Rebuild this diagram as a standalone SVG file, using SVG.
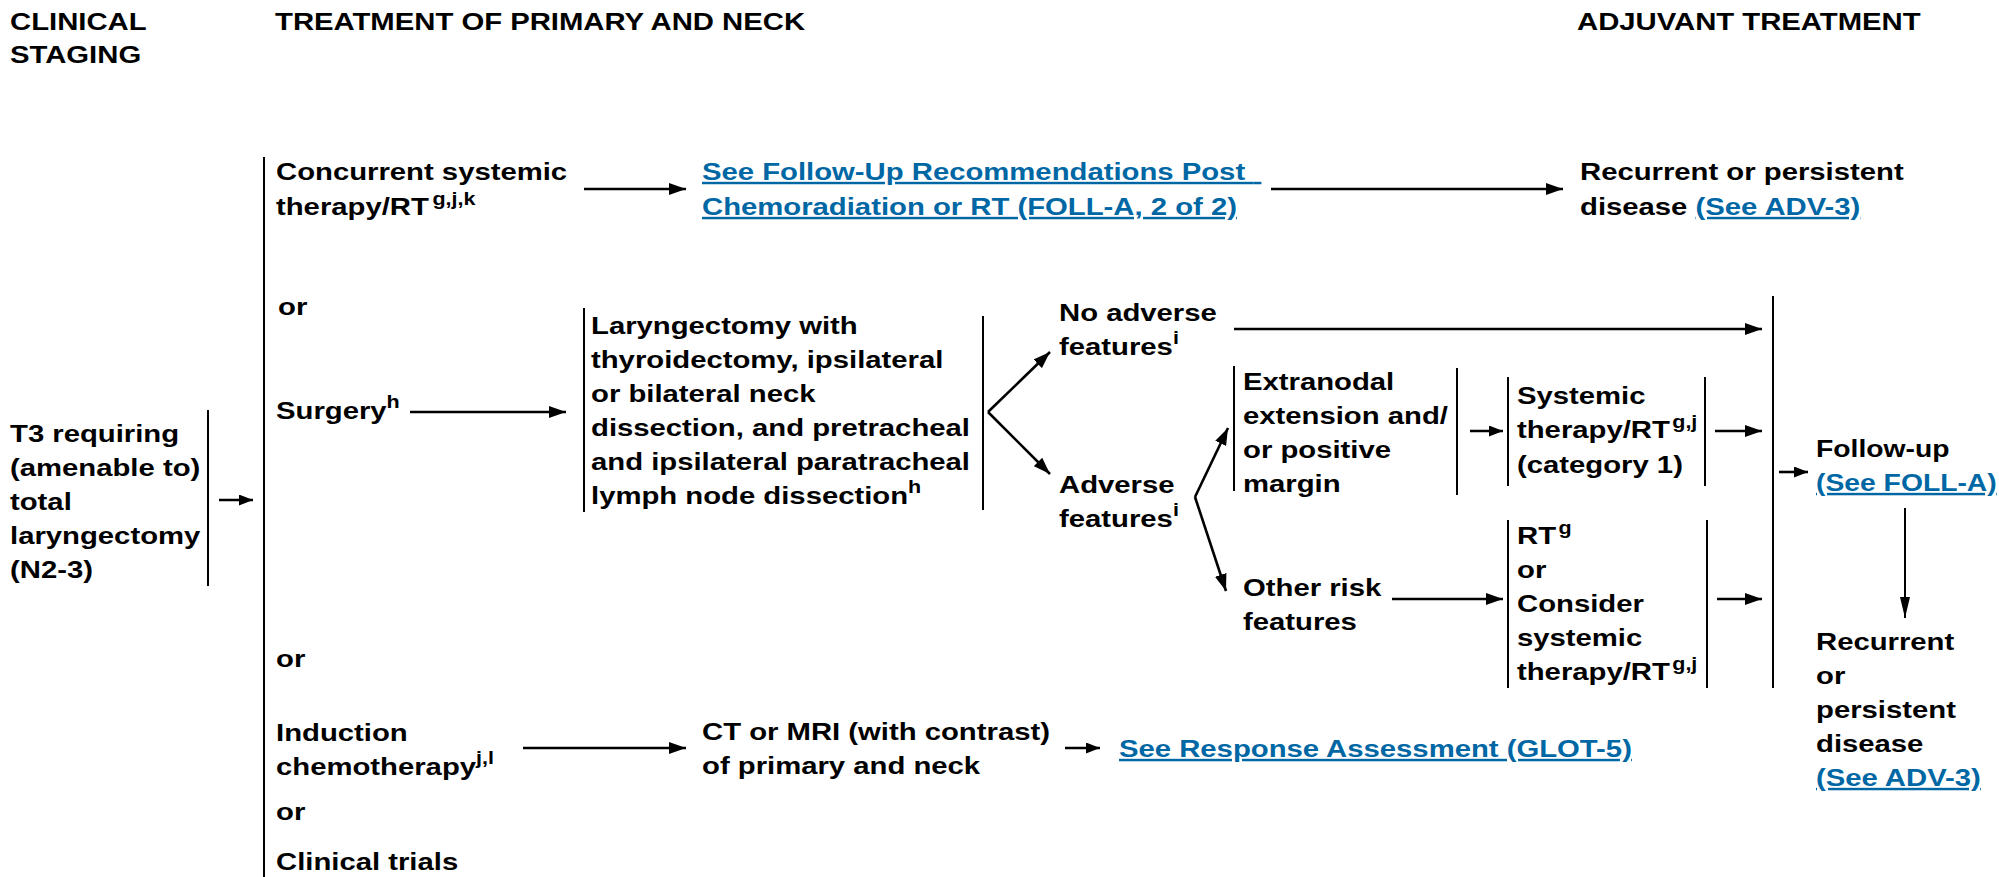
<svg xmlns="http://www.w3.org/2000/svg" width="1999" height="877" viewBox="0 0 1999 877">
  <style>
    text { font-family: "Liberation Sans", Arial, sans-serif; font-weight: bold; font-size: 24.5px; fill: #000; }
    .sup { font-size: 18px; }
    .link { fill: #0067a5; text-decoration: underline; }
    .bar { stroke: #000; stroke-width: 2; fill: none; }
    .arr { stroke: #000; stroke-width: 2.6; fill: none; marker-end: url(#head); }
    .arr-s { stroke: #000; stroke-width: 2.6; fill: none; marker-end: url(#headS); }
    .arr-d { stroke: #000; stroke-width: 2; fill: none; marker-end: url(#headD); }
  </style>
  <defs>
    <marker id="head" markerUnits="userSpaceOnUse" markerWidth="17" markerHeight="12" refX="17" refY="6" orient="auto">
      <path d="M0,0 L17,6 L0,12 z" fill="#000"/>
    </marker>
    <marker id="headS" markerUnits="userSpaceOnUse" markerWidth="14" markerHeight="11" refX="14" refY="5.5" orient="auto">
      <path d="M0,0 L14,5.5 L0,11 z" fill="#000"/>
    </marker>
    <marker id="headD" markerUnits="userSpaceOnUse" markerWidth="21" markerHeight="10" refX="21" refY="5" orient="auto">
      <path d="M0,0 L21,5 L0,10 z" fill="#000"/>
    </marker>
  </defs>
  <rect width="1999" height="877" fill="#fff"/>

  <!-- column headings -->
  <g id="headings">
    <text transform="matrix(1.195 0 0 1 10 0)"><tspan x="0" y="30">CLINICAL</tspan><tspan x="0" y="63">STAGING</tspan></text>
    <text transform="matrix(1.195 0 0 1 275 0)"><tspan x="0" y="30">TREATMENT OF PRIMARY AND NECK</tspan></text>
    <text transform="matrix(1.195 0 0 1 1577 0)"><tspan x="0" y="30">ADJUVANT TREATMENT</tspan></text>
  </g>

  <!-- staging -->
  <g id="staging">
    <text transform="matrix(1.195 0 0 1 10 0)">
      <tspan x="0" y="442">T3 requiring</tspan>
      <tspan x="0" y="476">(amenable to)</tspan>
      <tspan x="0" y="510">total</tspan>
      <tspan x="0" y="544">laryngectomy</tspan>
      <tspan x="0" y="578">(N2-3)</tspan>
    </text>
    <line class="bar" x1="208" y1="410" x2="208" y2="586"/>
  </g>

  <!-- primary treatment options -->
  <g id="options">
    <line class="bar" x1="264" y1="157" x2="264" y2="877"/>
    <text transform="matrix(1.195 0 0 1 276 0)">
      <tspan x="0" y="180">Concurrent systemic</tspan>
      <tspan x="0" y="215">therapy/RT</tspan><tspan class="sup" dx="3" y="205">g,j,k</tspan>
    </text>
    <text transform="matrix(1.195 0 0 1 278 0)"><tspan x="0" y="315">or</tspan></text>
    <text transform="matrix(1.195 0 0 1 276 0)"><tspan x="0" y="419">Surgery</tspan><tspan class="sup" y="408">h</tspan></text>
    <text transform="matrix(1.195 0 0 1 276 0)"><tspan x="0" y="667">or</tspan></text>
    <text transform="matrix(1.195 0 0 1 276 0)">
      <tspan x="0" y="741">Induction</tspan>
      <tspan x="0" y="775">chemotherapy</tspan><tspan class="sup" y="764">j,l</tspan>
    </text>
    <text transform="matrix(1.195 0 0 1 276 0)"><tspan x="0" y="820">or</tspan></text>
    <text transform="matrix(1.195 0 0 1 276 0)"><tspan x="0" y="870">Clinical trials</tspan></text>
  </g>

  <g id="followup-crt">
    <text class="link" transform="matrix(1.195 0 0 1 702 0)">
      <tspan x="0" y="180">See Follow-Up Recommendations Post&#160;</tspan>
      <tspan x="0" y="215">Chemoradiation or RT (FOLL-A, 2 of 2)</tspan>
    </text>
  </g>

  <g id="recurrent-top">
    <text transform="matrix(1.195 0 0 1 1580 0)">
      <tspan x="0" y="180">Recurrent or persistent</tspan>
      <tspan x="0" y="215">disease </tspan><tspan class="link">(See ADV-3)</tspan>
    </text>
  </g>

  <g id="laryngectomy">
    <line class="bar" x1="584" y1="308" x2="584" y2="512"/>
    <line class="bar" x1="983" y1="316" x2="983" y2="510"/>
    <text transform="matrix(1.195 0 0 1 591 0)">
      <tspan x="0" y="334">Laryngectomy with</tspan>
      <tspan x="0" y="368">thyroidectomy, ipsilateral</tspan>
      <tspan x="0" y="402">or bilateral neck</tspan>
      <tspan x="0" y="436">dissection, and pretracheal</tspan>
      <tspan x="0" y="470">and ipsilateral paratracheal</tspan>
      <tspan x="0" y="504">lymph node dissection</tspan><tspan class="sup" y="493">h</tspan>
    </text>
  </g>

  <g id="no-adverse">
    <text transform="matrix(1.195 0 0 1 1059 0)">
      <tspan x="0" y="321">No adverse</tspan>
      <tspan x="0" y="355">features</tspan><tspan class="sup" y="344">i</tspan>
    </text>
  </g>

  <g id="adverse">
    <text transform="matrix(1.195 0 0 1 1059 0)">
      <tspan x="0" y="493">Adverse</tspan>
      <tspan x="0" y="527">features</tspan><tspan class="sup" y="516">i</tspan>
    </text>
  </g>

  <g id="extranodal">
    <line class="bar" x1="1234" y1="366" x2="1234" y2="491"/>
    <line class="bar" x1="1457" y1="368" x2="1457" y2="495"/>
    <text transform="matrix(1.195 0 0 1 1243 0)">
      <tspan x="0" y="390">Extranodal</tspan>
      <tspan x="0" y="424">extension and/</tspan>
      <tspan x="0" y="458">or positive</tspan>
      <tspan x="0" y="492">margin</tspan>
    </text>
  </g>

  <g id="systemic-cat1">
    <line class="bar" x1="1508" y1="377" x2="1508" y2="486"/>
    <line class="bar" x1="1705" y1="377" x2="1705" y2="486"/>
    <text transform="matrix(1.195 0 0 1 1517 0)">
      <tspan x="0" y="404">Systemic</tspan>
      <tspan x="0" y="438">therapy/RT</tspan><tspan class="sup" dx="2" y="428">g,j</tspan>
      <tspan x="0" y="473">(category 1)</tspan>
    </text>
  </g>

  <g id="other-risk">
    <text transform="matrix(1.195 0 0 1 1243 0)">
      <tspan x="0" y="596">Other risk</tspan>
      <tspan x="0" y="630">features</tspan>
    </text>
  </g>

  <g id="rt-or-systemic">
    <line class="bar" x1="1508" y1="520" x2="1508" y2="688"/>
    <line class="bar" x1="1707" y1="520" x2="1707" y2="688"/>
    <text transform="matrix(1.195 0 0 1 1517 0)">
      <tspan x="0" y="544">RT</tspan><tspan class="sup" dx="2" y="534">g</tspan>
      <tspan x="0" y="578">or</tspan>
      <tspan x="0" y="612">Consider</tspan>
      <tspan x="0" y="646">systemic</tspan>
      <tspan x="0" y="680">therapy/RT</tspan><tspan class="sup" dx="2" y="670">g,j</tspan>
    </text>
  </g>

  <g id="follow-up">
    <text transform="matrix(1.155 0 0 1 1816 0)">
      <tspan x="0" y="457">Follow-up</tspan>
      <tspan class="link" x="0" y="491">(See FOLL-A)</tspan>
    </text>
  </g>

  <g id="recurrent-bottom">
    <text transform="matrix(1.195 0 0 1 1816 0)">
      <tspan x="0" y="650">Recurrent</tspan>
      <tspan x="0" y="684">or</tspan>
      <tspan x="0" y="718">persistent</tspan>
      <tspan x="0" y="752">disease</tspan>
      <tspan class="link" x="0" y="786">(See ADV-3)</tspan>
    </text>
  </g>

  <g id="imaging">
    <text transform="matrix(1.195 0 0 1 702 0)">
      <tspan x="0" y="740">CT or MRI (with contrast)</tspan>
      <tspan x="0" y="774">of primary and neck</tspan>
    </text>
  </g>

  <g id="response-assessment">
    <text class="link" transform="matrix(1.195 0 0 1 1119 0)"><tspan x="0" y="757">See Response Assessment (GLOT-5)</tspan></text>
  </g>

  <!-- connectors -->
  <g id="connectors">
    <line class="arr-s" x1="219" y1="500" x2="253" y2="500"/>
    <line class="arr" x1="584" y1="189" x2="686" y2="189"/>
    <line class="arr" x1="1271" y1="189" x2="1563" y2="189"/>
    <line class="arr" x1="410" y1="412" x2="566" y2="412"/>
    <line class="arr" x1="523" y1="748" x2="686" y2="748"/>
    <line class="arr-s" x1="1065" y1="748" x2="1100" y2="748"/>
    <!-- surgical outcome split -->
    <line class="arr" x1="988" y1="412" x2="1050" y2="352"/>
    <line class="arr" x1="988" y1="412" x2="1050" y2="474"/>
    <line class="arr" x1="1234" y1="329" x2="1762" y2="329"/>
    <!-- adverse features split -->
    <line class="arr" x1="1195" y1="497" x2="1228" y2="428"/>
    <line class="arr" x1="1195" y1="497" x2="1226" y2="591"/>
    <line class="arr-s" x1="1470" y1="431" x2="1503" y2="431"/>
    <line class="arr" x1="1715" y1="431" x2="1762" y2="431"/>
    <line class="arr" x1="1392" y1="599" x2="1503" y2="599"/>
    <line class="arr" x1="1717" y1="599" x2="1762" y2="599"/>
    <!-- merge bar into follow-up -->
    <line class="bar" x1="1773" y1="296" x2="1773" y2="688"/>
    <line class="arr-s" x1="1779" y1="472" x2="1808" y2="472"/>
    <line class="arr-d" x1="1905" y1="508" x2="1905" y2="618"/>
  </g>
</svg>
